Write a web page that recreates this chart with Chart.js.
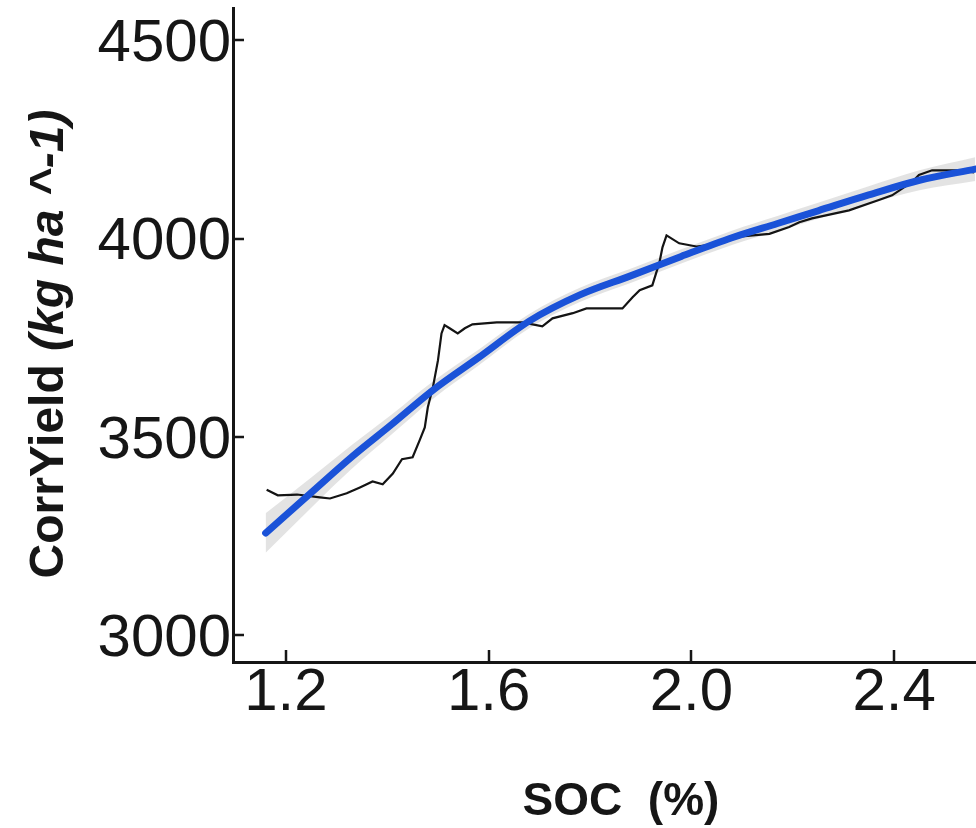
<!DOCTYPE html>
<html>
<head>
<meta charset="utf-8">
<title>CorrYield vs SOC</title>
<script src="https://cdn.jsdelivr.net/npm/chart.js@4/dist/chart.umd.min.js"></script>
<style>
  html, body { margin: 0; padding: 0; background: #fff; }
  canvas { display: block; }
</style>
</head>
<body>
<canvas id="socChart" width="976" height="828"></canvas>
<script>
// Observed running yield against SOC
const socObs = [1.162, 1.184, 1.222, 1.267, 1.287, 1.320, 1.346, 1.371, 1.391, 1.411, 1.429, 1.450, 1.464, 1.474, 1.480, 1.490, 1.500, 1.507, 1.513, 1.523, 1.539, 1.553, 1.568, 1.616, 1.667, 1.706, 1.726, 1.766, 1.793, 1.864, 1.884, 1.898, 1.923, 1.937, 1.943, 1.951, 1.976, 2.010, 2.041, 2.094, 2.154, 2.193, 2.213, 2.238, 2.311, 2.370, 2.396, 2.435, 2.449, 2.475, 2.534, 2.558];
const yieldObs = [3367, 3353, 3355, 3348, 3345, 3358, 3373, 3388, 3381, 3408, 3444, 3449, 3492, 3524, 3575, 3625, 3693, 3761, 3782, 3774, 3761, 3774, 3784, 3789, 3789, 3779, 3799, 3812, 3824, 3824, 3852, 3870, 3882, 3940, 3978, 4008, 3988, 3980, 3985, 4005, 4012, 4029, 4041, 4051, 4071, 4097, 4109, 4142, 4160, 4172, 4172, 4167];

// Smoothed fit and its confidence band
const socFit = [1.16, 1.25, 1.33, 1.41, 1.49, 1.58, 1.68, 1.78, 1.88, 1.98, 2.08, 2.17, 2.25, 2.35, 2.45, 2.56];
const yieldFit = [3258, 3360, 3450, 3533, 3618, 3700, 3792, 3858, 3906, 3955, 4002, 4038, 4070, 4110, 4147, 4175];
const bandUpper = [3308, 3398, 3480, 3558, 3640, 3720, 3810, 3876, 3924, 3973, 4020, 4057, 4090, 4132, 4172, 4205];
const bandLower = [3208, 3322, 3420, 3508, 3596, 3680, 3774, 3840, 3888, 3937, 3984, 4019, 4050, 4088, 4122, 4145];

const xTicks = [1.2, 1.6, 2.0, 2.4];
const yTicks = [3000, 3500, 4000, 4500];

const FONT = "'Liberation Sans', Arial, sans-serif";
const INK = "#161616";

const pts = (xs, ys) => xs.map((x, i) => ({ x: x, y: ys[i] }));

// keep the plot area fixed: no extra room for edge labels
function fixPadding(s) {
    s.paddingTop = 0;
    s.paddingBottom = 0;
    s.paddingLeft = 0;
    s.paddingRight = 0;
}

// Inward tick marks and the two axis titles
const axisDecor = {
    id: "axisDecor",
    afterDraw(chart) {
        const { ctx, chartArea, scales } = chart;
        ctx.save();
        ctx.strokeStyle = INK;
        ctx.lineWidth = 2.5;
        ctx.beginPath();
        xTicks.forEach(v => {
            const px = Math.round(scales.x.getPixelForValue(v));
            ctx.moveTo(px, chartArea.bottom);
            ctx.lineTo(px, chartArea.bottom - 12);
        });
        yTicks.forEach(v => {
            const py = Math.round(scales.y.getPixelForValue(v));
            ctx.moveTo(chartArea.left, py);
            ctx.lineTo(chartArea.left + 11, py);
        });
        ctx.stroke();

        ctx.fillStyle = INK;
        ctx.textBaseline = "alphabetic";

        // x title
        ctx.font = "bold 46px " + FONT;
        ctx.textAlign = "center";
        ctx.fillText("SOC  (%)", 621, 815);

        // y title, plain part then italic unit
        const partA = "CorrYield ";
        const partB = "(kg ha ^-1)";
        ctx.translate(63, 344);
        ctx.rotate(-Math.PI / 2);
        ctx.textAlign = "left";
        ctx.font = "bold 48px " + FONT;
        const wA = ctx.measureText(partA).width;
        ctx.font = "italic bold 48px " + FONT;
        const wB = ctx.measureText(partB).width;
        const start = -(wA + wB) / 2;
        ctx.font = "bold 48px " + FONT;
        ctx.fillText(partA, start, 0);
        ctx.font = "italic bold 48px " + FONT;
        ctx.fillText(partB, start + wA, 0);
        ctx.restore();
    }
};

new Chart(document.getElementById("socChart"), {
    type: "line",
    data: {
        datasets: [
            {
                label: "fit",
                data: pts(socFit, yieldFit),
                borderColor: "#1a52d8",
                borderWidth: 7,
                borderCapStyle: "round",
                cubicInterpolationMode: "monotone",
                pointRadius: 0,
                fill: false,
                order: 1
            },
            {
                label: "observed",
                data: pts(socObs, yieldObs),
                borderColor: "#141414",
                borderWidth: 2.2,
                tension: 0,
                pointRadius: 0,
                fill: false,
                order: 2
            },
            {
                label: "lower",
                data: pts(socFit, bandLower),
                borderWidth: 0,
                borderColor: "rgba(0,0,0,0)",
                cubicInterpolationMode: "monotone",
                pointRadius: 0,
                fill: false,
                order: 3
            },
            {
                label: "upper",
                data: pts(socFit, bandUpper),
                borderWidth: 0,
                borderColor: "rgba(0,0,0,0)",
                backgroundColor: "rgba(175,175,175,0.35)",
                cubicInterpolationMode: "monotone",
                pointRadius: 0,
                fill: 2,
                order: 3
            }
        ]
    },
    options: {
        responsive: false,
        animation: false,
        events: [],
        layout: { padding: { top: 8, left: 0, right: 0, bottom: 0 } },
        plugins: {
            legend: { display: false },
            tooltip: { enabled: false }
        },
        scales: {
            x: {
                type: "linear",
                min: 1.0956,
                max: 2.5616,
                afterFit: s => { s.height = 166; fixPadding(s); },
                afterBuildTicks: s => { s.ticks = xTicks.map(v => ({ value: v })); },
                grid: { display: false, drawTicks: false },
                border: { display: true, color: INK, width: 3 },
                ticks: {
                    padding: -5,
                    maxRotation: 0,
                    autoSkip: false,
                    color: INK,
                    font: { family: FONT, size: 60 },
                    callback: v => v.toFixed(1)
                }
            },
            y: {
                min: 2933,
                max: 4581,
                afterFit: s => { s.width = 233; fixPadding(s); },
                afterBuildTicks: s => { s.ticks = yTicks.map(v => ({ value: v })); },
                grid: { display: false, drawTicks: false },
                border: { display: true, color: INK, width: 3 },
                ticks: {
                    padding: 2,
                    labelOffset: 4,
                    autoSkip: false,
                    color: INK,
                    font: { family: FONT, size: 60 },
                    callback: v => String(v)
                }
            }
        }
    },
    plugins: [axisDecor]
});
</script>
</body>
</html>
